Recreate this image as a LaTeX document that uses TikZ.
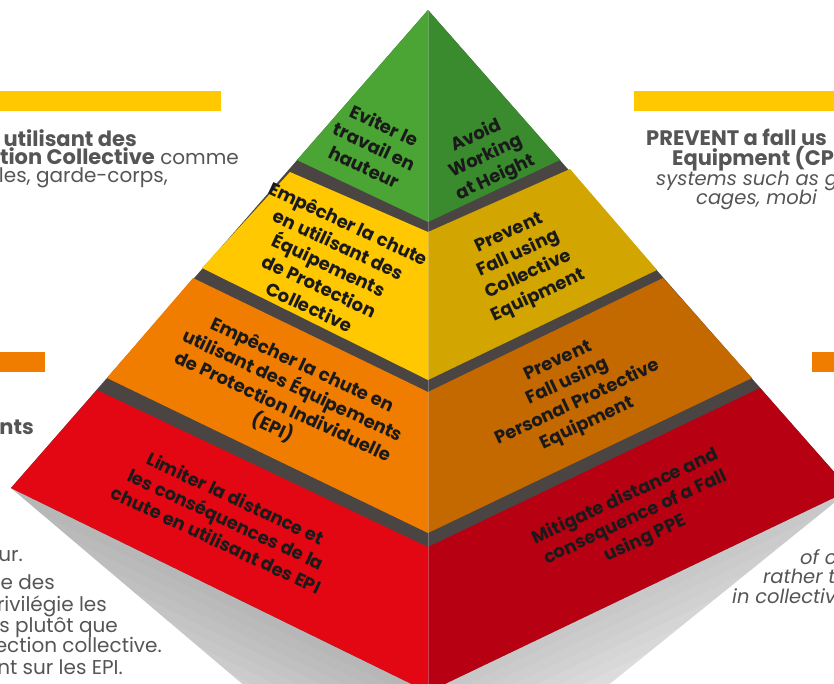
\documentclass[tikz,border=0pt]{standalone}
\usepackage{fontspec}
\setmainfont{Poppins}
\definecolor{cGL}{HTML}{4AA535}
\definecolor{cGR}{HTML}{3A8B2E}
\definecolor{cYL}{HTML}{FFC800}
\definecolor{cYR}{HTML}{D2A500}
\definecolor{cOL}{HTML}{F07D00}
\definecolor{cOR}{HTML}{C46800}
\definecolor{cRL}{HTML}{E30613}
\definecolor{cRR}{HTML}{B80013}
\definecolor{band}{HTML}{4A4543}
\definecolor{txt}{HTML}{1A1A1A}
\definecolor{sidec}{HTML}{555555}
\begin{document}
\begin{tikzpicture}[x=1pt,y=-1pt,
  ptxt/.style={font=\bfseries\fontsize{18}{23}\selectfont, text=txt, align=center, inner sep=0pt},
  tl/.style={ptxt, rotate=-25},
  tr/.style={ptxt, rotate=25},
  sideb/.style={font=\bfseries\fontsize{21}{19}\selectfont, text=sidec, inner sep=0pt},
  sider/.style={font=\fontsize{20}{19}\selectfont, text=sidec, inner sep=0pt},
  sidei/.style={font=\itshape\fontsize{19.5}{19}\selectfont, text=sidec, inner sep=0pt},
  shadowstrip/.style={fill=gray, opacity=0.05}
]
\useasboundingbox (0,0) rectangle (834,683);
% pyramid points
\coordinate (apex) at (428,10);
\coordinate (gL) at (297,160); \coordinate (gC) at (428,222); \coordinate (gR) at (560,160);
\coordinate (yTL) at (290,172); \coordinate (yBL) at (202,268); \coordinate (yCT) at (428,232);
\coordinate (yCB) at (428,380); \coordinate (yTR) at (570,169); \coordinate (yBR) at (657,270);
\coordinate (oTL) at (193,278); \coordinate (oBL) at (107,378); \coordinate (oCT) at (428,392);
\coordinate (oCB) at (428,533); \coordinate (oTR) at (663,278); \coordinate (oBR) at (752,378);
\coordinate (rTL) at (97,390); \coordinate (rBL) at (11,488); \coordinate (rCT) at (428,547);
\coordinate (rCB) at (428,692); \coordinate (rTR) at (760,388); \coordinate (rBR) at (850,490);
% shadows
\begin{scope}
  \clip (rBL) -- (rCB) -- (428,720) -- (285,720) -- cycle;
  \foreach \k in {1,...,16} {
    \fill[shadowstrip] (rBL) -- (rCB) -- ({428-4.4*\k},{692+9.0*\k}) -- ({11-4.4*\k},{488+9.0*\k}) -- cycle;
  }
\end{scope}
\begin{scope}
  \clip (rBR) -- (rCB) -- (428,720) -- (565,720) -- cycle;
  \foreach \k in {1,...,14} {
    \fill[shadowstrip, opacity=0.04] (rCB) -- (rBR) -- ({850+4.3*\k},{490+9.0*\k}) -- ({428+4.3*\k},{692+9.0*\k}) -- cycle;
  }
\end{scope}
% silhouette (bands)
\fill[band] (apex) -- (rBR) -- (rCB) -- (rBL) -- cycle;
% faces
\fill[cGL] (apex) -- (gC) -- (gL) -- cycle;
\fill[cGR] (apex) -- (gR) -- (gC) -- cycle;
\fill[cYL] (yTL) -- (yCT) -- (yCB) -- (yBL) -- cycle;
\fill[cYR] (yCT) -- (yTR) -- (yBR) -- (yCB) -- cycle;
\fill[cOL] (oTL) -- (oCT) -- (oCB) -- (oBL) -- cycle;
\fill[cOR] (oCT) -- (oTR) -- (oBR) -- (oCB) -- cycle;
\fill[cRL] (rTL) -- (rCT) -- (rCB) -- (rBL) -- cycle;
\fill[cRR] (rCT) -- (rTR) -- (rBR) -- (rCB) -- cycle;
\draw[white, opacity=0.25, line width=0.9pt] (apex) -- (rCB);
% pyramid texts
\node[tl] (gtl) at (374.5,146) {Eviter le\\travail en\\hauteur};
\node[tr] (gtr) at (486,157) {Avoid\\Working\\at Height};
\node[tl] (ytl) at (329,265) {Empêcher la chute\\en utilisant des\\Équipements\\de Protection\\Collective};
\node[tr] (ytr) at (524,265) {Prevent\\Fall using\\Collective\\Equipment};
\node[tl] (otl) at (287.5,397) {Empêcher la chute en\\utilisant des Équipements\\de Protection Individuelle\\(EPI)};
\node[tr] (otr) at (573,393) {Prevent\\Fall using\\Personal Protective\\Equipment};
\node[tl] (rtl) at (226,519) {Limiter la distance et\\les conséquences de la\\chute en utilisant des EPI};
\node[tr] (rtr) at (635.5,518) {Mitigate distance and\\consequence of a Fall\\using PPE};
% bars
\fill[cYL] (0,91) rectangle (221,111);
\fill[cYL] (634,91) rectangle (834,111);
\fill[cOL] (0,352) rectangle (45,372);
\fill[cOL] (812,352) rectangle (834,372);
% side texts left top
\node[sideb, anchor=base east] (lt1) at (137,146) {utilisant des};
\node[sider, anchor=base east] (lt2) at (239,164) {{\bfseries\fontsize{21}{19}\selectfont ction Collective} comme};
\node[sider, anchor=base east] (lt3) at (168,182) {elles, garde-corps,};
% right top
\node[sideb, anchor=base west] (rt1) at (646,145) {PREVENT a fall us};
\node[sideb, anchor=base west] (rt2) at (672,165) {Equipment (CP};
\node[sidei, anchor=base west] (rt3) at (656,185) {systems such as g};
\node[sidei, anchor=base west] (rt4) at (696,204) {cages, mobi};
% left middle
\node[sideb, anchor=base east] (lm1) at (34,434) {nts};
% left bottom
\node[sider, anchor=base east] (lb1) at (23,561) {ur.};
\node[sider, anchor=base east] (lb2) at (55,589) {ie des};
\node[sider, anchor=base east] (lb3) at (107,611) {rivilégie les};
\node[sider, anchor=base east] (lb4) at (118,632) {es plutôt que};
\node[sider, anchor=base east] (lb5) at (162,652) {ection collective.};
\node[sider, anchor=base east] (lb6) at (123,674) {nt sur les EPI.};
% right bottom
\node[sidei, anchor=base west] (rb1) at (800,564) {of c};
\node[sidei, anchor=base west] (rb2) at (763,583) {rather t};
\node[sidei, anchor=base west] (rb3) at (732,603) {in collectiv};
\end{tikzpicture}
\end{document}
